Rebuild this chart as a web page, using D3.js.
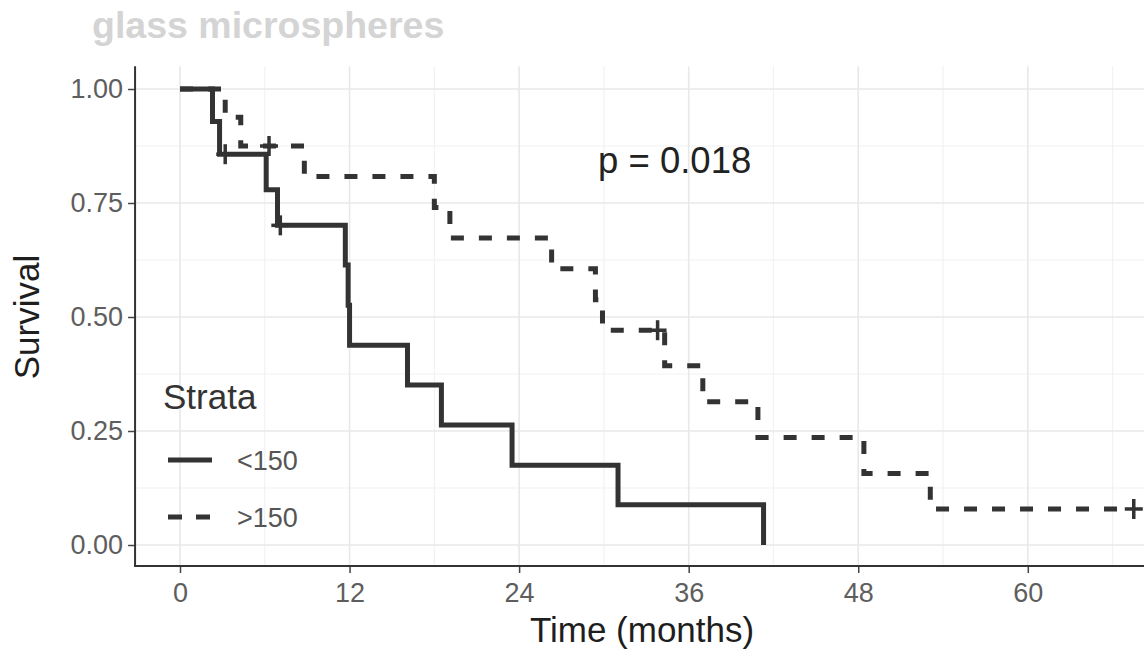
<!DOCTYPE html>
<html>
<head>
<meta charset="utf-8">
<script src="https://cdn.jsdelivr.net/npm/d3@7"></script>
<style>
  html, body { margin: 0; padding: 0; background: #fff; }
  svg { display: block; }
  text { font-family: "Liberation Sans", Arial, Helvetica, sans-serif; }
</style>
</head>
<body>
<svg id="chart" width="1144" height="656"></svg>
<script>
// ---- data ----
const strata = ["<150", ">150"];
const lowTimes = [0, 2.3, 2.8, 6.1, 6.9, 11.7, 11.9, 12.0, 16.1, 18.5, 23.5, 31.0, 41.3];
const lowSurv  = [1, 0.929, 0.857, 0.779, 0.701, 0.614, 0.526, 0.438, 0.351, 0.263, 0.175, 0.088, 0];
const lowCensorTimes = [3.2, 7.1];
const lowCensorSurv  = [0.857, 0.701];

const highTimes = [0, 3.2, 4.3, 8.8, 18.0, 19.1, 26.3, 29.4, 29.9, 34.3, 37.0, 40.9, 48.4, 53.1, 67.5];
const highSurv  = [1, 0.938, 0.875, 0.808, 0.740, 0.673, 0.606, 0.538, 0.471, 0.393, 0.314, 0.236, 0.157, 0.079, 0.079];
const highCensorTimes = [6.3, 33.8, 67.5];
const highCensorSurv  = [0.875, 0.471, 0.079];

const xTicks = [0, 12, 24, 36, 48, 60];
const xMinor = [6, 18, 30, 42, 54, 66];
const yTicks = [0, 0.25, 0.5, 0.75, 1.0];
const yMinor = [0.125, 0.375, 0.625, 0.875];
const titleText = "glass microspheres";
const pText = "p = 0.018";

// ---- layout ----
const svg = d3.select("#chart");
const x = d3.scaleLinear().domain([0, 60]).range([180, 1027.8]);
const y = d3.scaleLinear().domain([0, 1]).range([545, 89]);
const panelLeft = x(-3.18), panelRight = 1150;
const panelTop = y(1.05), panelBottom = y(-0.046);

// title
svg.append("text").attr("x", 92).attr("y", 38)
  .attr("font-family", "'Open Sans', 'Liberation Sans', sans-serif").attr("font-weight", 700)
  .attr("font-size", 37.5).attr("fill", "#d4d4d4").text(titleText);

// grid
const grid = svg.append("g");
xMinor.forEach(v => grid.append("line").attr("x1", x(v)).attr("x2", x(v))
  .attr("y1", panelTop).attr("y2", panelBottom).attr("stroke", "#f2f2f2").attr("stroke-width", 1.2));
yMinor.forEach(v => grid.append("line").attr("x1", panelLeft).attr("x2", panelRight)
  .attr("y1", y(v)).attr("y2", y(v)).attr("stroke", "#f2f2f2").attr("stroke-width", 1.2));
xTicks.forEach(v => grid.append("line").attr("x1", x(v)).attr("x2", x(v))
  .attr("y1", panelTop).attr("y2", panelBottom).attr("stroke", "#e8e8e8").attr("stroke-width", 1.6));
yTicks.forEach(v => grid.append("line").attr("x1", panelLeft).attr("x2", panelRight)
  .attr("y1", y(v)).attr("y2", y(v)).attr("stroke", "#e8e8e8").attr("stroke-width", 1.6));

// axes
const xAxis = svg.append("g").attr("transform", `translate(0,${panelBottom})`)
  .call(d3.axisBottom(x).tickValues(xTicks).tickSize(7).tickPadding(10).tickFormat(d3.format("d")));
const yAxis = svg.append("g").attr("transform", `translate(${panelLeft},0)`)
  .call(d3.axisLeft(y).tickValues(yTicks).tickSize(7).tickPadding(5).tickFormat(d3.format(".2f")));
[xAxis, yAxis].forEach(g => {
  g.select(".domain").remove();
  g.selectAll(".tick line").attr("stroke", "#444").attr("stroke-width", 1.5);
  g.selectAll(".tick text").attr("fill", "#5e5e5e").attr("font-size", 27)
    .attr("font-family", "'Liberation Sans', Arial, sans-serif");
});
svg.append("line").attr("x1", panelLeft).attr("x2", panelLeft).attr("y1", panelTop).attr("y2", panelBottom + 1)
  .attr("stroke", "#333").attr("stroke-width", 2);
svg.append("line").attr("x1", panelLeft - 1).attr("x2", panelRight).attr("y1", panelBottom).attr("y2", panelBottom)
  .attr("stroke", "#333").attr("stroke-width", 2);

// axis titles
svg.append("text").attr("x", x(32.7)).attr("y", 642).attr("text-anchor", "middle")
  .attr("font-size", 35).attr("fill", "#1e1e1e").text("Time (months)");
svg.append("text").attr("transform", `translate(39,${y(0.5)}) rotate(-90)`).attr("text-anchor", "middle")
  .attr("font-size", 35).attr("fill", "#1e1e1e").text("Survival");

// curves
const line = d3.line().x(d => x(d[0])).y(d => y(d[1])).curve(d3.curveStepAfter);
const lowPts = lowTimes.map((t, i) => [t, lowSurv[i]]);
const highPts = highTimes.map((t, i) => [t, highSurv[i]]);
svg.append("path").attr("d", line(lowPts)).attr("fill", "none")
  .attr("stroke", "#333").attr("stroke-width", 5);
svg.append("path").attr("d", line(highPts)).attr("fill", "none")
  .attr("stroke", "#333").attr("stroke-width", 5).attr("stroke-dasharray", "13,15");

// censor marks
function cross(ts, ss) {
  ts.forEach((t, i) => {
    const cx = x(t), cy = y(ss[i]);
    svg.append("line").attr("x1", cx - 9).attr("x2", cx + 9).attr("y1", cy).attr("y2", cy)
      .attr("stroke", "#333").attr("stroke-width", 3.5);
    svg.append("line").attr("x1", cx).attr("x2", cx).attr("y1", cy - 10).attr("y2", cy + 10)
      .attr("stroke", "#333").attr("stroke-width", 3.5);
  });
}
cross(lowCensorTimes, lowCensorSurv);
cross(highCensorTimes, highCensorSurv);

// p-value
svg.append("text").attr("x", 598).attr("y", 173).attr("font-size", 36.5).attr("fill", "#222").text(pText);

// legend
svg.append("text").attr("x", 163).attr("y", 409).attr("font-size", 35).attr("fill", "#333").text("Strata");
const legY = [460, 517];
strata.forEach((s, i) => {
  svg.append("line").attr("x1", 168).attr("x2", 212).attr("y1", legY[i]).attr("y2", legY[i])
    .attr("stroke", "#333").attr("stroke-width", 5)
    .attr("stroke-dasharray", i === 1 ? "14,14" : null);
  svg.append("text").attr("x", 237).attr("y", legY[i] + 10).attr("font-size", 27)
    .attr("fill", "#555").text(s);
});
</script>
</body>
</html>
